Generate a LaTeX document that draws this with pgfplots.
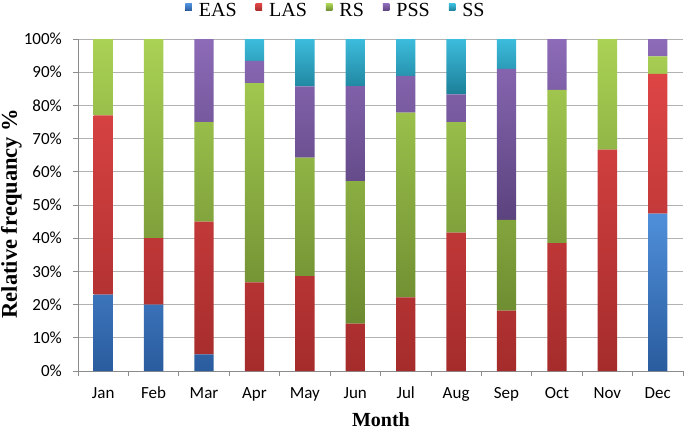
\documentclass[border=0pt]{standalone}
\usepackage{pgfplots}
\usepackage{pgfplotstable}
\pgfplotsset{compat=1.18}
\usepackage{fontspec}
\setmainfont{Liberation Serif}
\newfontfamily\calibri{Carlito}
\definecolor{easL}{HTML}{4F8FDA}
\definecolor{easD}{HTML}{2A5C9E}
\definecolor{lasL}{HTML}{DE4545}
\definecolor{lasD}{HTML}{A52C2C}
\definecolor{rsL}{HTML}{AAD254}
\definecolor{rsD}{HTML}{6C8A30}
\definecolor{pssL}{HTML}{8D6BB8}
\definecolor{pssD}{HTML}{5B437E}
\definecolor{ssL}{HTML}{3CBCDC}
\definecolor{ssD}{HTML}{1D7F98}
\definecolor{axisgray}{HTML}{8C8C8C}
\definecolor{gridgray}{HTML}{B2B2B2}

\pgfplotstableread{
x EAS LAS RS PSS SS
0 23 54 23 0 0
1 20 20 60 0 0
2 5 40 30 25 0
3 0 26.7 60 6.7 6.6
4 0 28.6 35.7 21.4 14.3
5 0 14.3 42.9 28.6 14.2
6 0 22.2 55.6 11.1 11.1
7 0 41.7 33.3 8.3 16.7
8 0 18.2 27.3 45.5 9.0
9 0 38.5 46.2 15.3 0
10 0 66.7 33.3 0 0
11 47.4 42.1 5.3 5.2 0
}\data

\pgfplotsset{
  sqlegend/.style={legend image code/.code={%
    \path (-19pt,0pt);
    \fill[##1] (0pt,-0.5pt) rectangle (6.5pt,6.5pt);
    \path (13.5pt,0pt);}}
}

\begin{document}
\begin{tikzpicture}
\begin{axis}[
  scale only axis, width=605pt, height=332pt,
  xmin=-0.5, xmax=11.5, ymin=0, ymax=100,
  ybar stacked, bar width=19.3pt,
  clip=false,
  axis lines*=left,
  axis line style={draw=axisgray, line width=0.8pt},
  ymajorgrids, grid style={draw=gridgray, line width=0.8pt},
  ytick={0,10,...,100},
  yticklabels={0\%,10\%,20\%,30\%,40\%,50\%,60\%,70\%,80\%,90\%,100\%},
  xtick={0,...,11},
  xticklabels={Jan,Feb,Mar,Apr,May,Jun,Jul,Aug,Sep,Oct,Nov,Dec},
  major x tick style={draw=none},
  minor xtick={-0.5,0.5,...,11.5},
  tick align=outside,
  major tick length=5pt, minor tick length=5pt,
  tick style={draw=axisgray, line width=0.8pt},
  ticklabel style={font=\calibri\fontsize{17}{20}\selectfont, inner sep=0pt},
  xticklabel style={anchor=base, yshift=-22pt},
  yticklabel style={anchor=east, xshift=-11pt},
  xlabel={Month},
  xlabel style={at={(axis description cs:0.5008,0)}, anchor=base, yshift=-55pt, inner sep=0pt, font=\bfseries\fontsize{20}{24}\selectfont},
  ylabel={Relative frequancy \%},
  ylabel style={at={(axis description cs:-0.1100,0.474)}, anchor=center, inner sep=0pt, font=\bfseries\fontsize{22.5}{27}\selectfont},
  legend style={at={(axis description cs:0.4090,1.1084)}, anchor=north, draw=none, fill=none,
    inner sep=0pt, outer sep=0pt, nodes={inner sep=0pt},
    legend columns=-1, font=\fontsize{20}{24}\selectfont,
    column sep=0pt},
]
\addplot[sqlegend, draw=none, top color=easL, bottom color=easD] table[x=x,y=EAS]{\data};
\addplot[sqlegend, draw=none, top color=lasL, bottom color=lasD] table[x=x,y=LAS]{\data};
\addplot[sqlegend, draw=none, top color=rsL, bottom color=rsD] table[x=x,y=RS]{\data};
\addplot[sqlegend, draw=none, top color=pssL, bottom color=pssD] table[x=x,y=PSS]{\data};
\addplot[sqlegend, draw=none, top color=ssL, bottom color=ssD] table[x=x,y=SS]{\data};
\legend{EAS,LAS,RS,PSS,SS}
\path (rel axis cs:-0.1289,-0.1747) rectangle (rel axis cs:1.00331,1.11747);
\end{axis}
\end{tikzpicture}
\end{document}
